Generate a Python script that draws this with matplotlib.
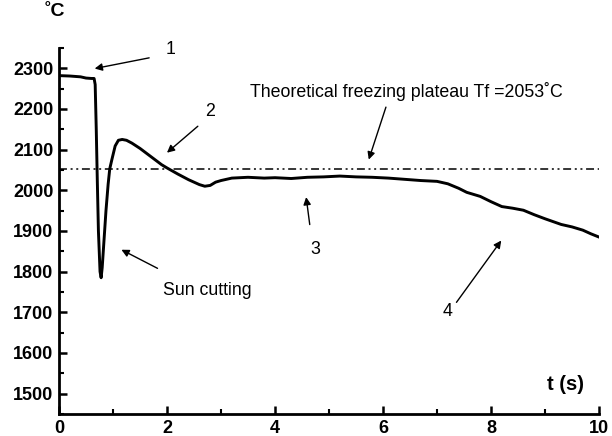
import numpy as np
import matplotlib.pyplot as plt
from matplotlib.ticker import MultipleLocator

plt.rcParams['font.family'] = ['Liberation Sans', 'DejaVu Sans']

# temperature record
t = [0.0, 0.2, 0.4, 0.5, 0.6, 0.65, 0.67, 0.69, 0.71, 0.73, 0.76, 0.78, 0.80, 0.83,
     0.87, 0.91, 0.94, 0.98, 1.04, 1.10, 1.17, 1.25, 1.35, 1.5, 1.6, 1.7, 1.8, 1.9, 2.0,
     2.2, 2.4, 2.6, 2.7, 2.8, 2.9, 3.0, 3.2, 3.5, 3.8, 4.0, 4.3, 4.6, 4.9, 5.2, 5.5, 5.8,
     6.1, 6.4, 6.7, 7.0, 7.2, 7.4, 7.55, 7.8, 8.0, 8.2, 8.4, 8.6, 8.8, 9.0, 9.3, 9.5, 9.7,
     9.85, 10.0]
temp = [2282, 2281, 2279, 2276, 2275, 2275, 2260, 2150, 2020, 1900, 1800, 1785, 1810, 1870,
        1950, 2015, 2053, 2076, 2109, 2123, 2125, 2123, 2116, 2103, 2093, 2083, 2073, 2063, 2055,
        2040, 2026, 2014, 2010, 2012, 2020, 2024, 2030, 2032, 2030, 2031, 2029, 2032, 2033, 2035, 2033,
        2032, 2030, 2027, 2024, 2022, 2016, 2005, 1995, 1985, 1972, 1960, 1956, 1951, 1940, 1930, 1916,
        1910, 1902, 1893, 1885]
tf = 2053

fig = plt.figure(figsize=(6.12, 4.36), dpi=100)
ax = fig.add_axes([0.0964, 0.0505, 0.8824, 0.8395])

ax.plot(t, temp, color='black', lw=2.1)
ax.axhline(tf, color='black', lw=1.1, linestyle=(0, (5.2, 2.4, 1.3, 2.4, 1.3, 2.4)))

ax.set_xlim(0, 10)
ax.set_ylim(1450, 2350)
ax.xaxis.set_major_locator(MultipleLocator(2))
ax.xaxis.set_minor_locator(MultipleLocator(1))
ax.yaxis.set_major_locator(MultipleLocator(100))
ax.yaxis.set_minor_locator(MultipleLocator(50))
ax.tick_params(which='major', direction='in', length=6, width=1.8, labelsize=13, pad=4)
ax.tick_params(which='minor', direction='in', length=3.5, width=1.5)
ax.set_yticks(range(1500, 2301, 100))
for lbl in ax.get_xticklabels() + ax.get_yticklabels():
    lbl.set_fontweight('bold')
for s in ['top', 'right']:
    ax.spines[s].set_visible(False)
for s in ['left', 'bottom']:
    ax.spines[s].set_linewidth(2)

fig.text(45 / 612, 1 - 12 / 436, '˚C', fontsize=14, fontweight='bold', va='center')
ax.text(9.37, 1522, 't (s)', fontsize=14.5, fontweight='bold', ha='center', va='center')

arr = dict(arrowstyle='-|>', color='black', lw=1, mutation_scale=11)
notes = [
    ('1', (2.06, 2347), (1.72, 2327), (0.61, 2298), 'center'),
    ('2', (2.80, 2194), (2.61, 2162), (1.96, 2088), 'center'),
    ('Theoretical freezing plateau Tf =2053˚C', (6.44, 2243), (6.07, 2211), (5.72, 2069), 'center'),
    ('3', (4.74, 1854), (4.65, 1909), (4.57, 1990), 'center'),
    ('Sun cutting', (1.93, 1754), (1.87, 1805), (1.11, 1857), 'left'),
    ('4', (7.20, 1702), (7.33, 1719), (8.22, 1882), 'center'),
]
for label, pos, tail, head, ha in notes:
    ax.annotate('', xy=head, xytext=tail, arrowprops=arr)
    ax.text(pos[0], pos[1], label, fontsize=12.8, ha=ha, va='center')

fig.savefig('out.png', dpi=100)
